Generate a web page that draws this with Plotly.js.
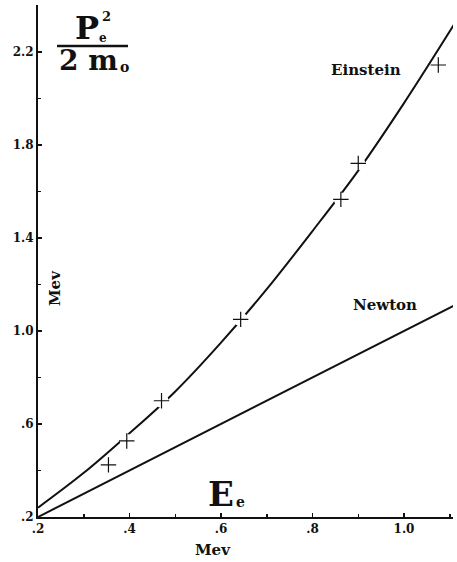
<!DOCTYPE html>
<html>
<head>
<meta charset="utf-8">
<script src="https://cdn.plot.ly/plotly-3.0.1.min.js"></script>
<style>
  html, body { margin: 0; padding: 0; background: #fff; }
  #chart { width: 457px; height: 562px; }
</style>
</head>
<body>
<div id="chart"></div>
<script>
// ---- data ----
const einsteinE = [0.20, 0.30, 0.40, 0.50, 0.60, 0.70, 0.80, 0.90, 1.00, 1.11];
const einsteinP = [0.24, 0.39, 0.56, 0.74, 0.95, 1.18, 1.43, 1.69, 1.98, 2.32];

const newtonE = [0.20, 1.11];
const newtonP = [0.20, 1.11];

const measuredE = [0.354, 0.394, 0.470, 0.643, 0.862, 0.900, 1.075];
const measuredP = [0.424, 0.527, 0.700, 1.050, 1.566, 1.721, 2.144];

const xTickVals = [0.2, 0.4, 0.6, 0.8, 1.0];
const xTickText = [".2", ".4", ".6", ".8", "1.0"];
const yTickVals = [0.2, 0.6, 1.0, 1.4, 1.8, 2.2];
const yTickText = [".2", ".6", "1.0", "1.4", "1.8", "2.2"];

// ---- layout helpers (pixel -> paper) ----
const W = 457, H = 562, ML = 38, MR = 4, MT = 5, MB = 45;
const PW = W - ML - MR, PH = H - MT - MB;
const px = v => (v - ML) / PW;
const py = v => (H - MB - v) / PH;

const serif = "DejaVu Serif, Liberation Serif, serif";
const ink = "#111";

const traces = [
  { x: newtonE, y: newtonP, mode: "lines", line: { color: ink, width: 2 },
    hoverinfo: "skip", showlegend: false },
  { x: einsteinE, y: einsteinP, mode: "lines", line: { color: ink, width: 2, shape: "spline", smoothing: 1 },
    hoverinfo: "skip", showlegend: false },
  { x: measuredE, y: measuredP, mode: "markers",
    marker: { symbol: "circle", size: 14, color: "#fff", line: { width: 0 } },
    hoverinfo: "skip", showlegend: false },
  { x: measuredE, y: measuredP, mode: "markers",
    marker: { symbol: "cross-thin", size: 11, color: ink, line: { color: ink, width: 1.2 } },
    showlegend: false }
];

function ann(text, x, y, size, extra) {
  return Object.assign({
    text: text, xref: "paper", yref: "paper", x: px(x), y: py(y),
    xanchor: "center", yanchor: "middle", showarrow: false,
    font: { family: serif, size: size, color: ink }
  }, extra || {});
}

const layout = {
  width: W, height: H,
  margin: { l: ML, r: MR, t: MT, b: MB },
  paper_bgcolor: "#fff", plot_bgcolor: "#fff",
  showlegend: false,
  xaxis: {
    range: [0.2, 0.2 + PW / 457.5],
    showgrid: false, zeroline: false,
    showline: true, linecolor: ink, linewidth: 2,
    tickmode: "array", tickvals: xTickVals, ticktext: xTickText,
    ticks: "inside", ticklen: 4, tickwidth: 1.5, tickcolor: ink,
    minor: { tickmode: "linear", tick0: 0.2, dtick: 0.1, ticks: "inside", ticklen: 3, tickwidth: 1.5, tickcolor: ink },
    tickfont: { family: serif, size: 12, color: ink, weight: "bold" },
    fixedrange: true
  },
  yaxis: {
    range: [0.2, 0.2 + PH / 232.5],
    showgrid: false, zeroline: false,
    showline: true, linecolor: ink, linewidth: 2,
    tickmode: "array", tickvals: yTickVals, ticktext: yTickText,
    ticks: "inside", ticklen: 4, tickwidth: 1.5, tickcolor: ink,
    minor: { tickmode: "linear", tick0: 0.2, dtick: 0.2, ticks: "inside", ticklen: 3, tickwidth: 1.5, tickcolor: ink },
    tickfont: { family: serif, size: 12, color: ink, weight: "bold" },
    fixedrange: true
  },
  shapes: [
    { type: "line", xref: "paper", yref: "paper", x0: px(57), x1: px(128), y0: py(46), y1: py(46),
      line: { color: ink, width: 2.5 } }
  ],
  annotations: [
    ann("<b>P</b>", 87, 28, 32),
    ann("<b>e</b>", 103, 38, 12),
    ann("<b>2</b>", 106, 16, 13),
    ann("<b>2 m</b>", 88, 60, 28),
    ann("<b>o</b>", 124, 67, 14),
    ann("Einstein", 366, 70, 15, { font: { family: serif, size: 15, color: ink, weight: "bold" } }),
    ann("Newton", 385, 305, 15, { font: { family: serif, size: 15, color: ink, weight: "bold" } }),
    ann("<b>E</b>", 221, 494, 34),
    ann("<b>e</b>", 240, 502, 14),
    ann("<b>Mev</b>", 55, 288, 15, { textangle: -90 }),
    ann("<b>Mev</b>", 213, 550, 15)
  ]
};

Plotly.newPlot("chart", traces, layout, { displayModeBar: false, staticPlot: true });
</script>
</body>
</html>
